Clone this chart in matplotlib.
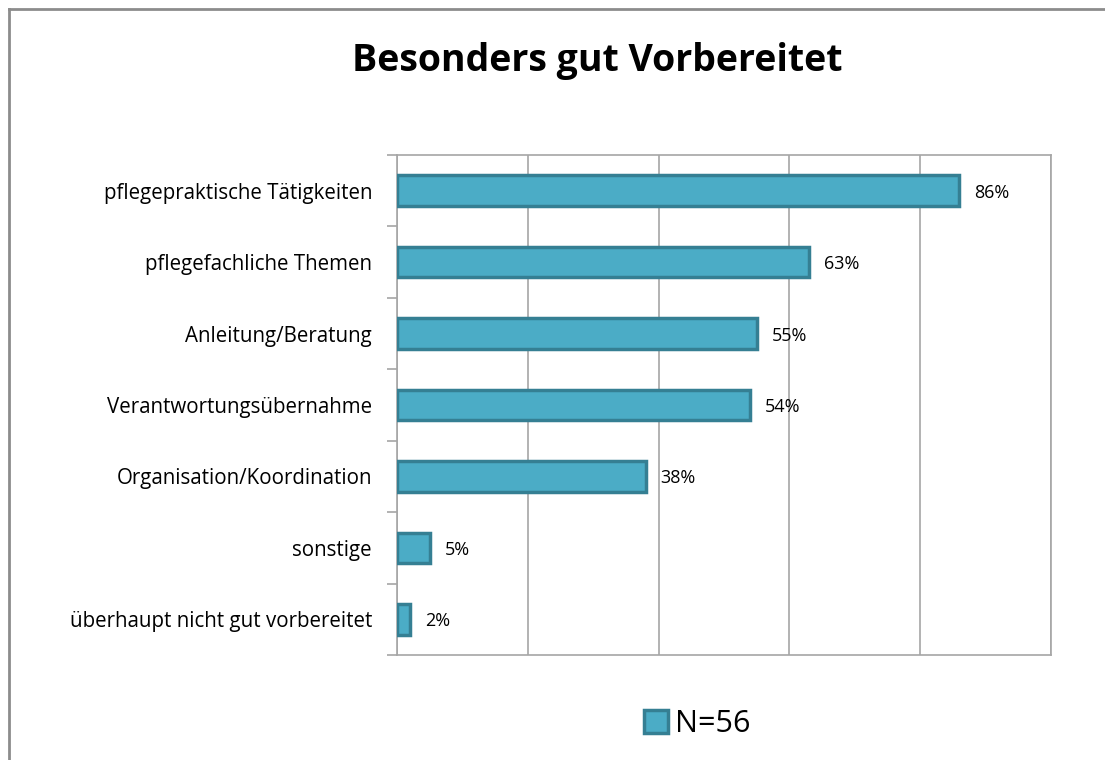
import matplotlib.pyplot as plt
from matplotlib.patches import Patch
from matplotlib.lines import Line2D
import numpy as np

# data
categories = [
    "pflegepraktische Tätigkeiten",
    "pflegefachliche Themen",
    "Anleitung/Beratung",
    "Verantwortungsübernahme",
    "Organisation/Koordination",
    "sonstige",
    "überhaupt nicht gut vorbereitet",
]
values = [86, 63, 55, 54, 38, 5, 2]
series_name = "N=56"
title = "Besonders gut Vorbereitet"

plt.rcParams['font.family'] = ['Open Sans', 'DejaVu Sans']

fill = "#4BACC6"
edge = "#357F93"
grid_col = "#A6A6A6"

fig = plt.figure(figsize=(11.05, 7.6), dpi=100)
ax = fig.add_axes([397 / 1105, 1 - 655 / 760, 654 / 1105, 500 / 760])

y = np.arange(len(categories))
ax.barh(y, values, height=0.43, color=fill, edgecolor=edge, linewidth=2.5, zorder=3)

for yi, v in zip(y, values):
    ax.text(v + 2.3, yi, f"{v}%", va="center_baseline", ha="left", fontsize=13, color="black")

ax.set_xlim(0, 100)
ax.set_ylim(len(categories) - 0.5, -0.5)
ax.set_xticks([0, 20, 40, 60, 80, 100])
ax.set_xticklabels([])
ax.tick_params(axis="x", length=0)
ax.grid(axis="x", color=grid_col, linewidth=1.2, zorder=0)

ax.set_yticks(y)
ax.set_yticklabels(categories, fontsize=14.8, va="center_baseline")
ax.tick_params(axis="y", which="major", length=0, pad=18)
ax.set_yticks(np.arange(len(categories) + 1) - 0.5, minor=True)
ax.tick_params(axis="y", which="minor", length=7, width=1.2, color=grid_col)

for s in ax.spines.values():
    s.set_color(grid_col)
    s.set_linewidth(1.2)

fig.text(597 / 1105, 1 - 61 / 760, title, ha="center", va="center",
         fontsize=27, fontweight="bold")

# outer chart border (only left and top visible)
fig.add_artist(Line2D([8.5 / 1105, 8.5 / 1105], [0, 1 - 9 / 760], color="#8C8C8C",
                      linewidth=2, transform=fig.transFigure))
fig.add_artist(Line2D([8.5 / 1105, 1], [1 - 9 / 760, 1 - 9 / 760], color="#8C8C8C",
                      linewidth=2, transform=fig.transFigure))

handle = Patch(facecolor=fill, edgecolor=edge, linewidth=2.5)
fig.legend([handle], [series_name], loc="center", bbox_to_anchor=(697 / 1105, 1 - 724 / 760),
           frameon=False, fontsize=22, handlelength=0.8, handleheight=0.8,
           handletextpad=0.2)

plt.savefig("out.png", dpi=100)
plt.close()
